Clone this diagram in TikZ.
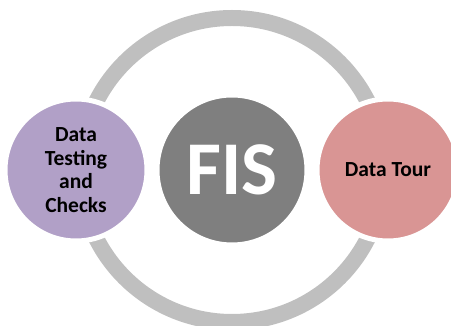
\documentclass[tikz,border=0pt]{standalone}
\usepackage{fontspec}
\setmainfont{Carlito}
\usetikzlibrary{positioning}

\definecolor{ringgray}{HTML}{BFBFBF}
\definecolor{fisgray}{HTML}{7F7F7F}
\definecolor{lilac}{HTML}{B1A0C7}
\definecolor{rosy}{HTML}{D99594}

\begin{document}
\begin{tikzpicture}[
mycircle/.style={circle,
  draw=white,
  line width=5pt,
  inner sep=0pt,
  align=center,
  font=\bfseries\fontsize{21.5}{23.5}\selectfont
},
ring/.style={draw=ringgray, line width=16pt}
]
\useasboundingbox (-232pt,-156pt) rectangle (219pt,170pt);

\coordinate (c) at (0,0);
\draw[ring] (c) circle (152pt);

\node[mycircle, fill=fisgray, minimum size=150pt, text=white,
      font=\bfseries\fontsize{76}{84}\selectfont] (fis) at (c)
    {FIS};
\node[mycircle, fill=lilac, minimum size=142pt, left=5pt of fis] (dtc)
    {Data\\Testing\\and\\Checks};
\node[mycircle, fill=rosy, minimum size=142pt, right=5pt of fis] (tour)
    {Data Tour};
\end{tikzpicture}
\end{document}
